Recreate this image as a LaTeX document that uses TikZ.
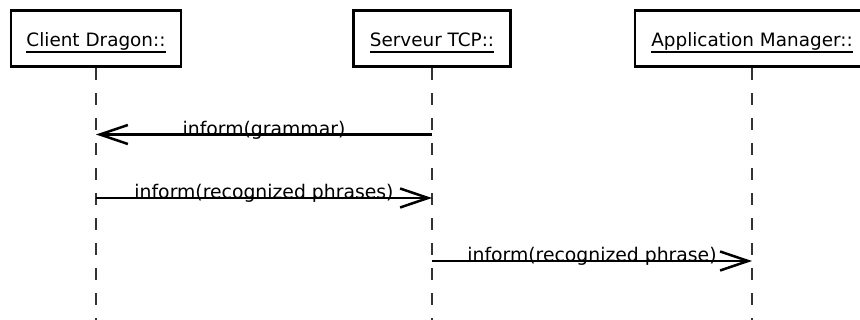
\documentclass[tikz,border=0pt]{standalone}
\usepackage{fontspec}
\setmainfont{DejaVu Sans}
\usetikzlibrary{arrows.meta}
% underlined object name with a fixed offset below the baseline
\newcommand{\objname}[1]{\setbox0\hbox{#1}\rlap{\rule[-5.6pt]{\wd0}{1.6pt}}\box0}
\begin{document}
\begin{tikzpicture}[x=1pt,y=-1pt,
  actor/.style={draw, line width=2.7pt, minimum height=56pt, inner sep=0pt},
  actorlabel/.style={anchor=base, inner sep=0pt, font=\fontsize{18.4}{21}\selectfont},
  lifeline/.style={line width=1.4pt, black!80, dash pattern=on 12.5pt off 12.5pt},
  msg/.style={line width=2.5pt, -{Straight Barb[length=28pt,width=19pt,line width=2.5pt]}},
  msglabel/.style={anchor=base, inner sep=0pt, font=\fontsize{18.8}{21}\selectfont}]
\useasboundingbox (0,0) rectangle (860,320);
\clip (0,0) rectangle (860,320);

% object boxes
\node[actor, minimum width=170pt] (client) at (96,38.5) {};
\node[actor, minimum width=157pt] (server) at (432,38.5) {};
\node[actor, minimum width=234pt] (app) at (752,38.5) {};
\node[actorlabel] (clientlbl) at (96,47) {\objname{Client Dragon::}};
\node[actorlabel] (serverlbl) at (432,47) {\objname{Serveur TCP::}};
\node[actorlabel] (applbl) at (752,47) {\objname{Application Manager::}};

% lifelines
\coordinate (clientend) at (96,330);
\coordinate (serverend) at (432,330);
\coordinate (append) at (752,330);
\draw[lifeline] (client.south) -- (clientend);
\draw[lifeline] (server.south) -- (serverend);
\draw[lifeline] (app.south) -- (append);

% messages
\draw[msg] (server |- 0,134.5) -- (client |- 0,134.5);
\node[msglabel] (m1) at (264,135.5) {inform(grammar)};
\draw[msg] (client |- 0,198) -- (server |- 0,198);
\node[msglabel] (m2) at (264,199) {inform(recognized phrases)};
\draw[msg] (server |- 0,261) -- (app |- 0,261);
\node[msglabel] (m3) at (592,262) {inform(recognized phrase)};
\end{tikzpicture}
\end{document}
